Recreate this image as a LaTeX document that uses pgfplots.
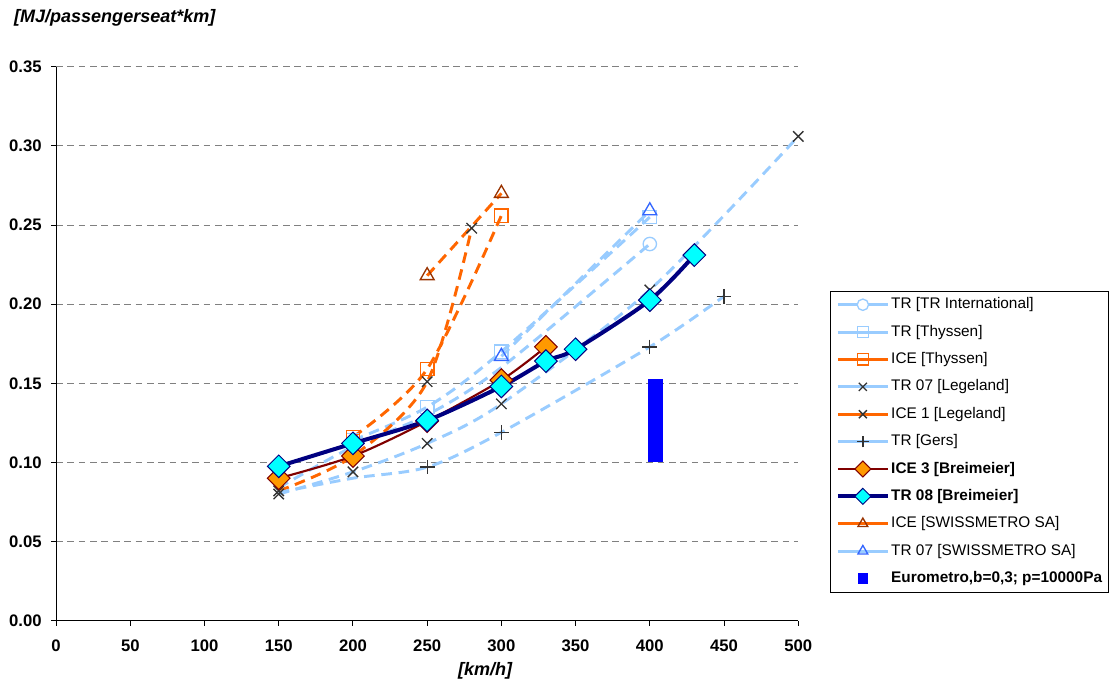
\documentclass[border=0pt]{standalone}
\usepackage{fontspec}
\setmainfont{Liberation Sans}
\usepackage{pgfplots}
\pgfplotsset{compat=1.18}
\definecolor{lb}{HTML}{99CCFF}
\definecolor{orng}{HTML}{FF6600}
\definecolor{mk}{HTML}{333333}
\definecolor{dred}{HTML}{800000}
\definecolor{navyc}{HTML}{000080}
\definecolor{dfill}{HTML}{FF9900}
\definecolor{cyn}{HTML}{00FFFF}
\definecolor{brn}{HTML}{993300}
\definecolor{tblue}{HTML}{3366FF}
\definecolor{bbar}{HTML}{0000FF}
\begin{document}
\begin{tikzpicture}
\begin{axis}[
  scale only axis, width=555.75pt, height=414.75pt,
  xmin=0, xmax=500, ymin=0, ymax=0.35,
  xtick={0,50,100,150,200,250,300,350,400,450,500},
  ytick={0,0.05,0.1,0.15,0.2,0.25,0.3,0.35},
  axis lines*=left,
  axis line style={black, line width=0.75pt},
  tick align=outside, major tick length=3.75pt,
  tick style={black, line width=0.75pt},
  ymajorgrids,
  grid style={gray, dash pattern=on 5pt off 3.5pt, line width=0.6pt},
  /pgf/number format/assume math mode=true,
  yticklabel style={/pgf/number format/fixed, /pgf/number format/fixed zerofill, /pgf/number format/precision=2, xshift=-3.5pt},
  xticklabel style={/pgf/number format/fixed},
  tick label style={font=\fontsize{12.5}{14}\selectfont\bfseries},
  xticklabel style={yshift=-7pt},
  clip=false,
  ylabel={[MJ/passengerseat*km]},
  every axis y label/.style={at={(rel axis cs:0,1)}, anchor=south west, xshift=-35pt, yshift=26.5pt, font=\fontsize{13.5}{15}\selectfont\bfseries\itshape},
  xlabel={[km/h]},
  every axis x label/.style={at={(rel axis cs:0.578,0)}, anchor=north, yshift=-28pt, font=\fontsize{13.5}{15}\selectfont\bfseries\itshape},
  legend cell align=left,
  legend image code/.code={\draw[mark repeat=2,mark phase=2,solid,mark size=4.25pt] plot coordinates {(0pt,0pt) (18.75pt,0pt) (37.5pt,0pt)};},
  legend style={at={(1.0432,0.596)}, anchor=north west, draw=black, line width=0.75pt, fill=white,
    font=\fontsize{11.5}{13}\selectfont, row sep=7.5pt, inner sep=3.75pt,
    nodes={inner sep=1pt, text height=8.6pt, text depth=2.4pt}},
]
% TR [TR International]
\addplot[lb, line width=2.2pt, dash pattern=on 8pt off 5pt, smooth, mark=o, mark size=5pt, mark options={solid, line width=1pt}, mark indices={5},
  legend image code/.code={\draw[lb, solid, line width=2.2pt] (0pt,0pt) -- (37.5pt,0pt); \draw[lb, solid, line width=1pt, fill=white] (18.75pt,0pt) circle (4.25pt);}]
  coordinates {(150,0.084) (200,0.110) (250,0.130) (300,0.160) (400,0.238)};
\addlegendentry{TR [TR International]}
% TR [Thyssen]
\addplot[lb, line width=2.2pt, dash pattern=on 8pt off 5pt, smooth, mark=square, mark size=5pt, mark options={solid, line width=1pt}]
  coordinates {(200,0.114) (250,0.135) (300,0.170) (400,0.255)};
\addlegendentry{TR [Thyssen]}
% ICE [Thyssen]
\addplot[orng, line width=2.2pt, dash pattern=on 8pt off 5pt, smooth, mark=square, mark size=5pt, mark options={solid, line width=1pt}]
  coordinates {(200,0.116) (250,0.159) (300,0.256)};
\addlegendentry{ICE [Thyssen]}
% TR 07 [Legeland]
\addplot[lb, line width=2.2pt, dash pattern=on 8pt off 5pt, smooth, mark=x, mark size=5.5pt, mark options={solid, mk, line width=1pt}]
  coordinates {(150,0.080) (200,0.094) (250,0.112) (300,0.137) (400,0.209) (500,0.306)};
\addlegendentry{TR 07 [Legeland]}
% ICE 1 [Legeland]
\addplot[orng, line width=2.2pt, dash pattern=on 8pt off 5pt, smooth, mark=x, mark size=5.5pt, mark options={solid, mk, line width=1pt}]
  coordinates {(150,0.082) (200,0.104) (250,0.151) (280,0.248)};
\addlegendentry{ICE 1 [Legeland]}
% TR [Gers]
\addplot[lb, line width=2.2pt, dash pattern=on 8pt off 5pt, smooth, mark=+, mark size=5.5pt, mark options={solid, mk, line width=1pt}, mark indices={3,4,5,6},
  legend image code/.code={\draw[lb, solid, line width=2.2pt] (0pt,0pt) -- (37.5pt,0pt); \draw[mk, solid, line width=1pt] (14.5pt,0pt) -- (23pt,0pt) (18.75pt,-4.25pt) -- (18.75pt,4.25pt);}]
  coordinates {(150,0.081) (200,0.090) (250,0.097) (300,0.119) (400,0.173) (450,0.205)};
\addlegendentry{TR [Gers]}
% ICE 3 [Breimeier]
\addplot[dred, line width=1.6pt, smooth, mark=square*, mark size=6pt, mark options={solid, rotate=45, fill=dfill, draw=dred, line width=0.75pt}]
  coordinates {(150,0.090) (200,0.104) (250,0.126) (300,0.152) (330,0.173)};
\addlegendentry{\textbf{ICE 3 [Breimeier]}}
% TR 08 [Breimeier]
\addplot[navyc, line width=3pt, smooth, mark=square*, mark size=6pt, mark options={solid, rotate=45, fill=cyn, draw=navyc, line width=0.75pt}]
  coordinates {(150,0.0975) (200,0.112) (250,0.1265) (300,0.148) (330,0.164) (350,0.1715) (400,0.2025) (430,0.231)};
\addlegendentry{\textbf{TR 08 [Breimeier]}}
% ICE [SWISSMETRO SA]
\addplot[orng, line width=2.2pt, dash pattern=on 8pt off 5pt, smooth, mark=triangle, mark size=6pt, mark options={solid, brn, line width=1pt}]
  coordinates {(250,0.218) (300,0.270)};
\addlegendentry{ICE [SWISSMETRO SA]}
% TR 07 [SWISSMETRO SA]
\addplot[lb, line width=2.2pt, dash pattern=on 8pt off 5pt, smooth, mark=triangle, mark size=6pt, mark options={solid, tblue, line width=1pt}]
  coordinates {(300,0.167) (400,0.259)};
\addlegendentry{TR 07 [SWISSMETRO SA]}
% Eurometro bar
\addplot[bbar, line width=11.25pt, forget plot] coordinates {(404,0.100) (404,0.153)};
\addlegendimage{legend image code/.code={\fill[bbar] (15.5pt,-3.5pt) rectangle (22.5pt,3.5pt);}}
\addlegendentry{\textbf{Eurometro,b=0,3; p=10000Pa}}
\path (rel axis cs:0,0) -- ++(-42pt,0pt);
\path (rel axis cs:0,1) -- ++(0pt,50pt);
\end{axis}
\end{tikzpicture}
\end{document}
